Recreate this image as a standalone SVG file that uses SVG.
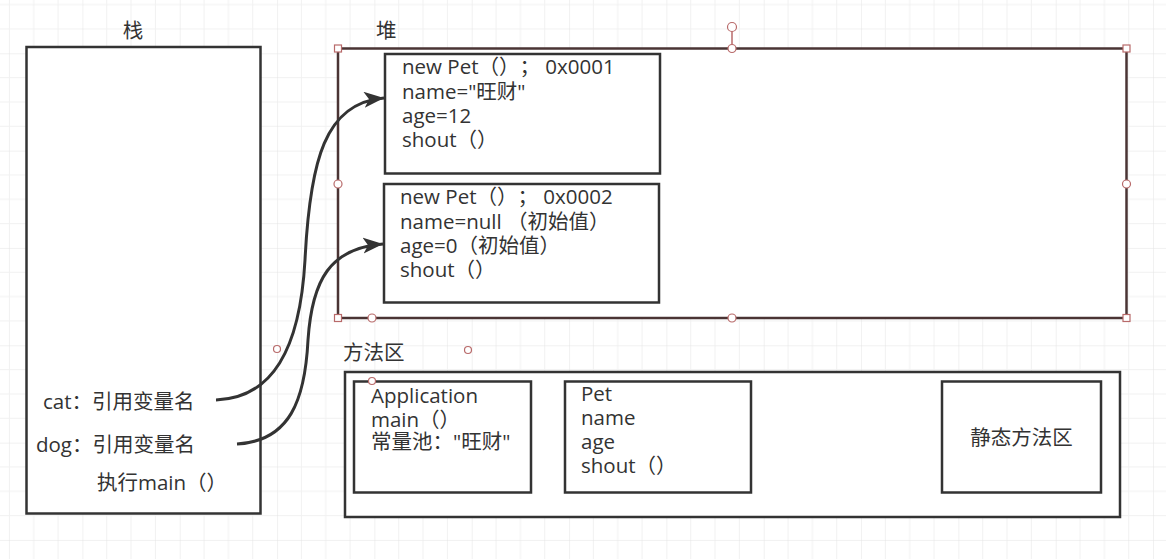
<svg xmlns="http://www.w3.org/2000/svg" width="1166" height="559" viewBox="0 0 1166 559">
<defs>
<pattern id="grid" x="82.4" y="53.3" width="97.33" height="97.33" patternUnits="userSpaceOnUse">
<path d="M24.33 0V97.33M48.67 0V97.33M73 0V97.33M0 24.33H97.33M0 48.67H97.33M0 73H97.33" stroke="#f1f1f1" stroke-width="1" fill="none"/>
<path d="M0 0V97.33M0 0H97.33" stroke="#e4e4e4" stroke-width="1" fill="none"/>
</pattern>
<marker id="arr" markerUnits="userSpaceOnUse" markerWidth="24" markerHeight="20" refX="20" refY="8" orient="auto">
<path d="M0 0 L20 8 L0 16 L5 8 Z" fill="#333"/>
</marker>
<style>
.box{fill:#fff;stroke:#333;stroke-width:2.5}
.heap{fill:#fff;stroke:#4a3434;stroke-width:2.5}
.t{font-family:"Open Sans","Noto Sans CJK SC",sans-serif;font-size:20.5px;fill:#333;text-spacing-trim:space-all}
.c{font-family:"Noto Sans CJK SC",sans-serif;font-size:20.5px;fill:#333;text-spacing-trim:space-all}
.wire{fill:none;stroke:#333;stroke-width:3}
.h{fill:#fff;stroke:#b86a6a;stroke-width:1.2}
</style>
</defs>
<rect width="1166" height="559" fill="#fff"/>
<rect width="1166" height="559" fill="url(#grid)"/>

<g id="stack">
<rect class="box" x="26.5" y="47" width="234" height="466.5"/>
<text class="c" x="133" y="38" text-anchor="middle">栈</text>
<text class="t" x="43" y="409">cat：引用变量名</text>
<text class="t" x="36" y="452">dog：引用变量名</text>
<text class="t" x="97" y="490">执行main（）</text>
</g>

<g id="heap">
<rect class="heap" x="338" y="48.5" width="788.5" height="269.5"/>
<text class="c" x="376" y="38">堆</text>
</g>

<g id="pet1">
<rect class="box" x="385" y="54" width="275" height="119.5"/>
<text class="t" x="402" y="74">new Pet（）； 0x0001</text>
<text class="t" x="402" y="99">name="旺财"</text>
<text class="t" x="402" y="123">age=12</text>
<text class="t" x="402" y="147">shout（）</text>
</g>

<g id="pet2">
<rect class="box" x="384" y="184" width="275" height="118.5"/>
<text class="t" x="400" y="204">new Pet（）； 0x0002</text>
<text class="t" x="400" y="228.5">name=null （初始值）</text>
<text class="t" x="400" y="252.5">age=0（初始值）</text>
<text class="t" x="400" y="277">shout（）</text>
</g>

<g id="methodArea">
<rect class="box" x="345" y="372" width="775" height="145"/>
<text class="c" x="343" y="360">方法区</text>
</g>

<g id="appClass">
<rect class="box" x="354" y="381.5" width="177" height="111"/>
<text class="t" x="371" y="402.5">Application</text>
<text class="t" x="371" y="426.5">main（）</text>
<text class="t" x="371" y="449">常量池："旺财"</text>
</g>

<g id="petClass">
<rect class="box" x="565" y="381.5" width="186" height="111"/>
<text class="t" x="581" y="401">Pet</text>
<text class="t" x="581" y="425">name</text>
<text class="t" x="581" y="449">age</text>
<text class="t" x="581" y="473">shout（）</text>
</g>

<g id="staticArea">
<rect class="box" x="942" y="381.5" width="159" height="111"/>
<text class="c" x="1021.5" y="445" text-anchor="middle">静态方法区</text>
</g>

<g id="connectors">
<path class="wire" marker-end="url(#arr)" d="M216 400 C 272 398 300 350 305 260 C 310 160 325 103 384 98"/>
<path class="wire" marker-end="url(#arr)" d="M237 444 C 290 441 305 400 308 340 C 312 280 330 248 383 244"/>
</g>

<g id="handles">
<line x1="732" y1="31" x2="732" y2="45" stroke="#b86a6a" stroke-width="1.5"/>
<circle class="h" cx="732" cy="27" r="4.5"/>
<circle class="h" cx="732" cy="48.5" r="4"/>
<circle class="h" cx="732" cy="318" r="4"/>
<circle class="h" cx="338" cy="184" r="4"/>
<circle class="h" cx="1126.5" cy="184" r="4"/>
<circle class="h" cx="372" cy="318" r="4"/>
<circle class="h" cx="277" cy="349" r="3.5"/>
<circle class="h" cx="468" cy="350" r="3.5"/>
<circle class="h" cx="372" cy="381" r="3.5"/>
<rect class="h" x="334.5" y="45" width="7" height="7"/>
<rect class="h" x="1123" y="45" width="7" height="7"/>
<rect class="h" x="334.5" y="314.5" width="7" height="7"/>
<rect class="h" x="1123" y="314.5" width="7" height="7"/>
</g>
</svg>
